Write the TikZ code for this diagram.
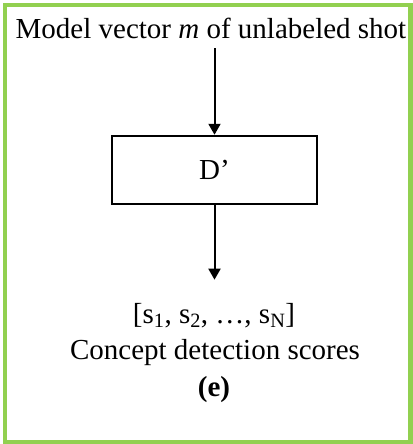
\documentclass[tikz,border=0pt]{standalone}
\usepackage{fontspec}
\setmainfont{Liberation Serif}
\usetikzlibrary{arrows.meta, positioning}
\definecolor{framegreen}{HTML}{92D050}

\begin{document}
\begin{tikzpicture}[x=1pt, y=-1pt,
    txt/.style={font=\fontsize{29}{34}\selectfont, inner sep=0pt},
    flow/.style={-{Triangle[width=12pt, length=11pt]}, line width=2pt}]
    \useasboundingbox (0,0) rectangle (412,444);

    % Green frame
    \draw[framegreen, line width=4.5pt] (5,5) rectangle (410.5,442);

    % Input text
    \node[txt, anchor=base] (input) at (211,39) {Model vector \textit{m} of unlabeled shot};

    % Block D'
    \node[draw, line width=2.5pt, minimum width=205pt, minimum height=68pt, txt] (dblock) at (214.5,170) {D’};

    % Output text
    \node[txt, anchor=base] (scores) at (214,323) {[s\textsubscript{1}, s\textsubscript{2}, \ldots, s\textsubscript{N}]};
    \node[txt, anchor=base] (caption) at (215,359) {Concept detection scores};
    \node[txt, anchor=base, font=\fontsize{29}{34}\selectfont\bfseries] (label) at (214,396) {(e)};

    % Arrows
    \draw[flow, shorten <=9pt] (dblock.north |- input.south) -- (dblock.north);
    \draw[flow, shorten >=23pt] (dblock.south) -- (dblock.south |- scores.north);
\end{tikzpicture}
\end{document}
